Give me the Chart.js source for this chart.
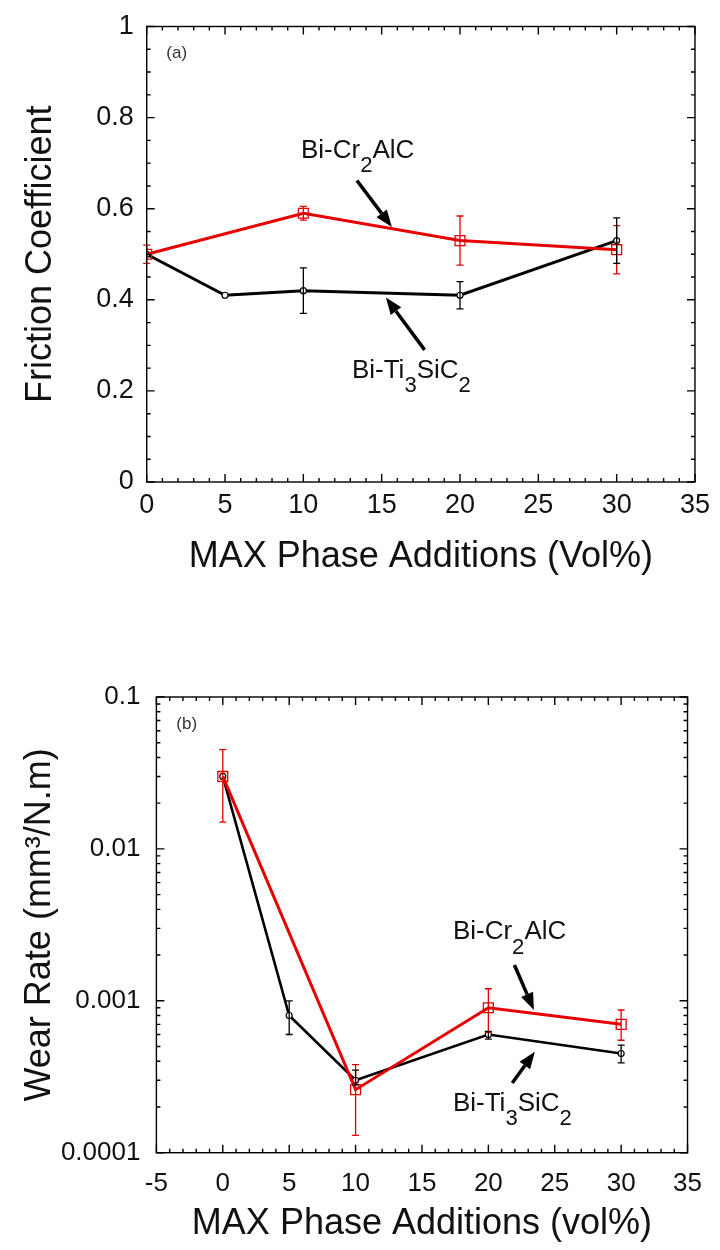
<!DOCTYPE html>
<html>
<head>
<meta charset="utf-8">
<script src="https://cdn.jsdelivr.net/npm/chart.js@4.4.1/dist/chart.umd.min.js"></script>
<style>
  html, body { margin: 0; padding: 0; background: #fff; }
  body { width: 720px; height: 1250px; position: relative; overflow: hidden; }
  canvas { position: absolute; left: 0; }
  #c1 { top: 0; }
  #c2 { top: 640px; }
</style>
</head>
<body>
<canvas id="c1" width="720" height="600"></canvas>
<canvas id="c2" width="720" height="610"></canvas>
<script>
// ---- (a) friction coefficient ----
const frictionXCr = [0, 10, 20, 30];
const frictionCr = [0.5, 0.59, 0.53, 0.51];
const frictionCrErr = [0.02, 0.015, 0.054, 0.053];
const frictionXTi = [0, 5, 10, 20, 30];
const frictionTi = [0.5, 0.41, 0.42, 0.41, 0.53];
const frictionTiErr = [0, 0, 0.05, 0.03, 0.05];

// ---- (b) wear rate ----
const wearXCr = [0, 10, 20, 30];
const wearCr = [0.03, 0.00026, 0.0009, 0.0007];
const wearCrLow = [0.015, 0.00013, 0.00062, 0.00055];
const wearCrHigh = [0.045, 0.00038, 0.0012, 0.00087];
const wearXTi = [0, 5, 10, 20, 30];
const wearTi = [0.03, 0.0008, 0.0003, 0.0006, 0.00045];
const wearTiLow = [0.03, 0.0006, 0.00028, 0.00056, 0.00039];
const wearTiHigh = [0.03, 0.001, 0.00035, 0.00063, 0.00051];

const labelCr = [["Bi-Cr", 0], ["2", 1], ["AlC", 0]];
const labelTi = [["Bi-Ti", 0], ["3", 1], ["SiC", 0], ["2", 1]];

const RED = "#e60000";
const BLACK = "#000";
const FONT = "'Liberation Sans', Arial, sans-serif";

Chart.defaults.font.family = FONT;
Chart.defaults.color = "#111";

function pts(xs, ys) {
  return xs.map((x, i) => ({ x: x, y: ys[i] }));
}

// frame + inward ticks on all four sides
const frameTicks = {
  id: "frameTicks",
  afterDraw(chart, args, opts) {
    const { ctx, chartArea: a, scales } = chart;
    ctx.save();
    ctx.strokeStyle = "#000";
    ctx.lineWidth = 1.4;
    ctx.strokeRect(a.left, a.top, a.right - a.left, a.bottom - a.top);
    ctx.beginPath();
    opts.xTicks.forEach(([v, len]) => {
      const p = scales.x.getPixelForValue(v);
      ctx.moveTo(p, a.bottom); ctx.lineTo(p, a.bottom - len);
      ctx.moveTo(p, a.top); ctx.lineTo(p, a.top + len);
    });
    opts.yTicks.forEach(([v, len]) => {
      const p = scales.y.getPixelForValue(v);
      ctx.moveTo(a.left, p); ctx.lineTo(a.left + len, p);
      ctx.moveTo(a.right, p); ctx.lineTo(a.right - len, p);
    });
    ctx.stroke();
    ctx.restore();
  }
};

// vertical error bars
const errorBars = {
  id: "errorBars",
  afterDatasetsDraw(chart) {
    const { ctx, scales } = chart;
    chart.data.datasets.forEach((ds, i) => {
      if (!ds.errLow) return;
      const meta = chart.getDatasetMeta(i);
      ctx.save();
      ctx.strokeStyle = ds.borderColor;
      ctx.lineWidth = 1.3;
      ctx.beginPath();
      meta.data.forEach((pt, j) => {
        const lo = scales.y.getPixelForValue(ds.errLow[j]);
        const hi = scales.y.getPixelForValue(ds.errHigh[j]);
        if (Math.abs(lo - hi) < 1) return;
        ctx.moveTo(pt.x, lo); ctx.lineTo(pt.x, hi);
        ctx.moveTo(pt.x - 3.5, lo); ctx.lineTo(pt.x + 3.5, lo);
        ctx.moveTo(pt.x - 3.5, hi); ctx.lineTo(pt.x + 3.5, hi);
      });
      ctx.stroke();
      ctx.restore();
    });
  }
};

// text labels with subscripts and arrows, placed in data units
const notes = {
  id: "notes",
  afterDraw(chart, args, opts) {
    const { ctx, scales } = chart;
    ctx.save();
    (opts.texts || []).forEach(t => {
      let px = scales.x.getPixelForValue(t.x);
      const py = scales.y.getPixelForValue(t.y);
      ctx.fillStyle = t.color || "#111";
      ctx.textBaseline = "alphabetic";
      ctx.textAlign = "left";
      t.parts.forEach(([s, sub]) => {
        ctx.font = (sub ? t.size * 0.85 : t.size) + "px " + FONT;
        ctx.fillText(s, px, py + (sub ? t.size * 0.55 : 0));
        px += ctx.measureText(s).width;
      });
    });
    (opts.arrows || []).forEach(r => {
      const x1 = scales.x.getPixelForValue(r.x1), y1 = scales.y.getPixelForValue(r.y1);
      const x2 = scales.x.getPixelForValue(r.x2), y2 = scales.y.getPixelForValue(r.y2);
      const ang = Math.atan2(y2 - y1, x2 - x1);
      const hl = 17, hw = 6.5;
      const bx = x2 - hl * Math.cos(ang), by = y2 - hl * Math.sin(ang);
      ctx.strokeStyle = "#000";
      ctx.fillStyle = "#000";
      ctx.lineWidth = 3.5;
      ctx.beginPath();
      ctx.moveTo(x1, y1); ctx.lineTo(bx, by);
      ctx.stroke();
      ctx.beginPath();
      ctx.moveTo(x2, y2);
      ctx.lineTo(bx + hw * Math.sin(ang), by - hw * Math.cos(ang));
      ctx.lineTo(bx - hw * Math.sin(ang), by + hw * Math.cos(ang));
      ctx.closePath();
      ctx.fill();
    });
    ctx.restore();
  }
};

function linTicks(min, max, minor, major, lenMinor, lenMajor) {
  const out = [];
  const n = Math.round((max - min) / minor);
  for (let i = 0; i <= n; i++) {
    const v = min + i * minor;
    const isMajor = Math.abs(v / major - Math.round(v / major)) < 1e-6;
    out.push([v, isMajor ? lenMajor : lenMinor]);
  }
  return out;
}

function logTicks(eMin, eMax, lenMinor, lenMajor) {
  const out = [];
  for (let e = eMin; e < eMax; e++) {
    for (let m = 1; m < 10; m++) out.push([m * Math.pow(10, e), m === 1 ? lenMajor : lenMinor]);
  }
  out.push([Math.pow(10, eMax), lenMajor]);
  return out;
}

const numFmt = v => String(+Number(v).toFixed(4));

// ---------- chart (a) ----------
new Chart(document.getElementById("c1"), {
  type: "line",
  data: {
    datasets: [
      {
        label: "Bi-Cr2AlC",
        data: pts(frictionXCr, frictionCr),
        errLow: frictionCr.map((v, i) => v - frictionCrErr[i]),
        errHigh: frictionCr.map((v, i) => v + frictionCrErr[i]),
        borderColor: RED,
        borderWidth: 3,
        pointStyle: "rect",
        pointRadius: 7,
        pointBorderWidth: 1.3,
        pointBorderColor: RED,
        pointBackgroundColor: "transparent"
      },
      {
        label: "Bi-Ti3SiC2",
        data: pts(frictionXTi, frictionTi),
        errLow: frictionTi.map((v, i) => v - frictionTiErr[i]),
        errHigh: frictionTi.map((v, i) => v + frictionTiErr[i]),
        borderColor: BLACK,
        borderWidth: 3,
        pointStyle: "circle",
        pointRadius: 3,
        pointBorderWidth: 1.2,
        pointBorderColor: BLACK,
        pointBackgroundColor: "#fff"
      }
    ]
  },
  options: {
    responsive: false,
    animation: false,
    layout: { padding: { top: 23, right: 22, left: 0, bottom: 0 } },
    elements: { line: { tension: 0 } },
    plugins: {
      legend: { display: false },
      tooltip: { enabled: false },
      frameTicks: {
        xTicks: linTicks(0, 35, 1, 5, 4, 8),
        yTicks: linTicks(0, 1, 0.05, 0.2, 4, 8)
      },
      notes: {
        texts: [
          { parts: [["(a)", 0]], x: 1.25, y: 0.93, size: 17, color: "#333" },
          { parts: labelCr, x: 9.85, y: 0.712, size: 26 },
          { parts: labelTi, x: 13.1, y: 0.2286, size: 26 }
        ],
        arrows: [
          { x1: 13.42, y1: 0.662, x2: 15.65, y2: 0.56 },
          { x1: 17.74, y1: 0.29, x2: 15.27, y2: 0.405 }
        ]
      }
    },
    scales: {
      x: {
        type: "linear",
        min: 0,
        max: 35,
        afterFit: s => { s.height = 118; },
        grid: { display: false, drawTicks: false },
        border: { display: false },
        ticks: { stepSize: 5, autoSkip: false, maxRotation: 0, padding: 10, color: "#111",
                 font: { size: 27, lineHeight: 1 }, callback: numFmt },
        title: { display: true, text: "MAX Phase Additions (Vol%)", color: "#111",
                 font: { size: 36, lineHeight: 1 }, padding: { top: 0, bottom: 25 } }
      },
      y: {
        type: "linear",
        min: 0,
        max: 1,
        afterFit: s => { s.width = 146.7; },
        grid: { display: false, drawTicks: false },
        border: { display: false },
        ticks: { stepSize: 0.2, autoSkip: false, padding: 13, color: "#111",
                 font: { size: 27, lineHeight: 1 }, callback: numFmt },
        title: { display: true, text: "Friction Coefficient", color: "#111",
                 font: { size: 36, lineHeight: 1 }, padding: { top: 23, bottom: 0 } }
      }
    }
  },
  plugins: [frameTicks, errorBars, notes]
});

// ---------- chart (b) ----------
new Chart(document.getElementById("c2"), {
  type: "line",
  data: {
    datasets: [
      {
        label: "Bi-Cr2AlC",
        data: pts(wearXCr, wearCr),
        errLow: wearCrLow,
        errHigh: wearCrHigh,
        borderColor: RED,
        borderWidth: 3,
        pointStyle: "rect",
        pointRadius: 7,
        pointBorderWidth: 1.3,
        pointBorderColor: RED,
        pointBackgroundColor: "transparent"
      },
      {
        label: "Bi-Ti3SiC2",
        data: pts(wearXTi, wearTi),
        errLow: wearTiLow,
        errHigh: wearTiHigh,
        borderColor: BLACK,
        borderWidth: 2.6,
        pointStyle: "circle",
        pointRadius: 3,
        pointBorderWidth: 1.2,
        pointBorderColor: BLACK,
        pointBackgroundColor: "#fff"
      }
    ]
  },
  options: {
    responsive: false,
    animation: false,
    layout: { padding: { top: 57, right: 17, left: 0, bottom: 0 } },
    elements: { line: { tension: 0 } },
    plugins: {
      legend: { display: false },
      tooltip: { enabled: false },
      frameTicks: {
        xTicks: linTicks(-5, 35, 1, 5, 4, 8),
        yTicks: logTicks(-4, -1, 4, 8)
      },
      notes: {
        texts: [
          { parts: [["(b)", 0]], x: -3.5, y: 0.062, size: 17, color: "#333" },
          { parts: labelCr, x: 17.33, y: 0.00254, size: 26 },
          { parts: labelTi, x: 17.33, y: 0.000188, size: 26 }
        ],
        arrows: [
          { x1: 21.96, y1: 0.00172, x2: 23.43, y2: 0.00087 },
          { x1: 21.8, y1: 0.000288, x2: 23.5, y2: 0.000462 }
        ]
      }
    },
    scales: {
      x: {
        type: "linear",
        min: -5,
        max: 35,
        afterFit: s => { s.height = 97.3; },
        grid: { display: false, drawTicks: false },
        border: { display: false },
        ticks: { stepSize: 5, autoSkip: false, maxRotation: 0, padding: 18, color: "#111",
                 font: { size: 26, lineHeight: 1 }, callback: numFmt },
        title: { display: true, text: "MAX Phase Additions (vol%)", color: "#111",
                 font: { size: 36, lineHeight: 1 }, padding: { top: 0, bottom: 8 } }
      },
      y: {
        type: "logarithmic",
        min: 0.0001,
        max: 0.1,
        afterFit: s => { s.width = 156.4; },
        afterBuildTicks: s => {
          s.ticks = s.ticks.filter(t => {
            const e = Math.log10(t.value);
            return Math.abs(e - Math.round(e)) < 1e-6;
          });
        },
        grid: { display: false, drawTicks: false },
        border: { display: false },
        ticks: { autoSkip: false, padding: 16, color: "#111",
                 font: { size: 26, lineHeight: 1 },
                 callback: v => {
                   const e = Math.round(Math.log10(v));
                   return Math.pow(10, e).toFixed(-e);
                 } },
        title: { display: true, text: "Wear Rate (mm\u00B3/N.m)", color: "#111",
                 font: { size: 36, lineHeight: 1 }, padding: { top: 22, bottom: 0 } }
      }
    }
  },
  plugins: [frameTicks, errorBars, notes]
});
</script>
</body>
</html>
